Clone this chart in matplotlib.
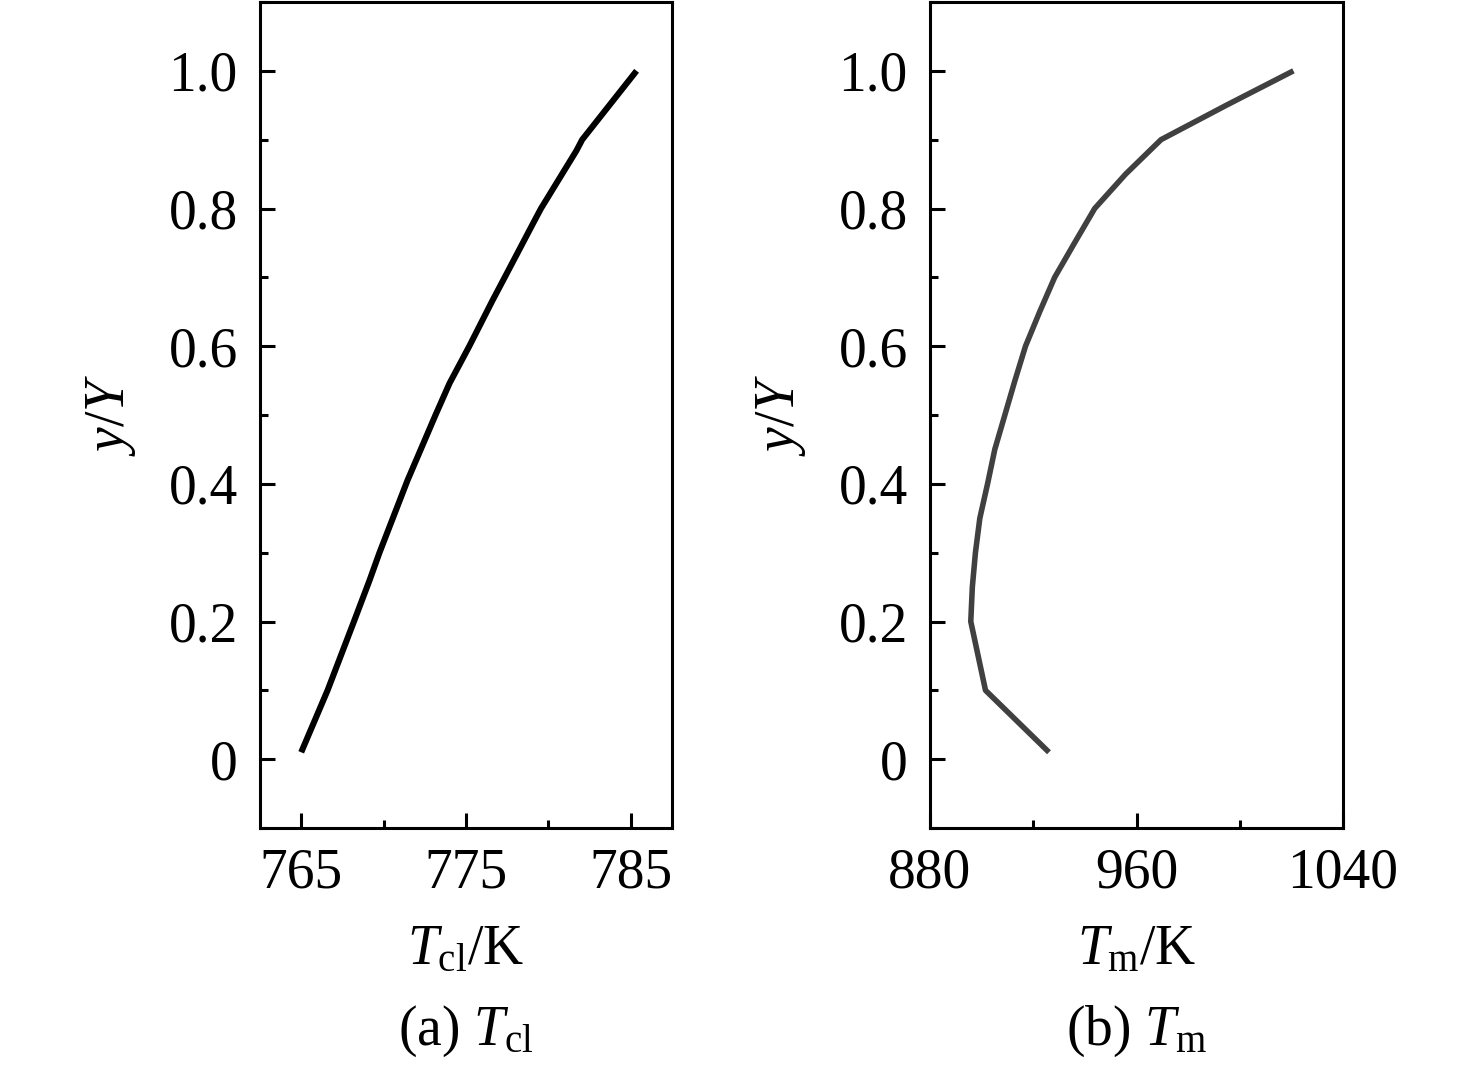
import matplotlib
matplotlib.use("Agg")
import matplotlib.pyplot as plt
from matplotlib.ticker import MultipleLocator

plt.rcParams['font.family'] = ['Liberation Serif', 'DejaVu Serif']
plt.rcParams['mathtext.fontset'] = 'custom'
plt.rcParams['mathtext.rm'] = 'Liberation Serif'
plt.rcParams['mathtext.it'] = 'Liberation Serif:italic'

# Data: panel (a)
y_a = [0.01, 0.1, 0.2, 0.26, 0.3, 0.405, 0.5, 0.546, 0.6, 0.666, 0.7,
       0.782, 0.8, 0.884, 0.9, 1.0]
T_cl = [765.0, 766.6, 768.2, 769.15, 769.75, 771.45, 773.15, 774.0, 775.2,
        776.6, 777.35, 779.15, 779.55, 781.7, 782.05, 785.35]

# Data: panel (b)
y_b = [0.01, 0.1, 0.2, 0.25, 0.3, 0.35, 0.4, 0.45, 0.5, 0.55, 0.6, 0.65,
       0.7, 0.75, 0.8, 0.85, 0.9, 0.95, 1.0]
T_m = [926.1, 901.5, 895.8, 896.4, 897.6, 899.3, 902.3, 905.1, 909.0, 912.9,
       917.0, 922.5, 928.3, 936.0, 943.8, 955.8, 969.5, 994.8, 1020.8]

xlim_a = (762.5, 787.5)
xticks_a = [765, 775, 785]
xlim_b = (880, 1040)
xticks_b = [880, 960, 1040]
yticks = [0, 0.2, 0.4, 0.6, 0.8, 1.0]
ytick_labels = ['0', '0.2', '0.4', '0.6', '0.8', '1.0']

fig = plt.figure(figsize=(14.76, 10.76), dpi=100)
H = 1076.0
W = 1476.0
ax1 = fig.add_axes([260 / W, (H - 828) / H, 412 / W, 826 / H])
ax2 = fig.add_axes([930 / W, (H - 828) / H, 413 / W, 826 / H])

fs = 40

def style(ax, xlim, xticks, xminor):
    ax.set_xlim(*xlim)
    ax.set_ylim(-0.1, 1.1)
    ax.set_xticks(xticks)
    ax.set_xticklabels([str(t) for t in xticks])
    ax.set_yticks(yticks)
    ax.set_yticklabels(ytick_labels)
    ax.xaxis.set_minor_locator(MultipleLocator(xminor))
    ax.yaxis.set_minor_locator(MultipleLocator(0.1))
    ax.tick_params(which='both', direction='in', top=False, right=False,
                   labelsize=fs, width=2.2)
    ax.tick_params(axis='y', which='major', length=11, pad=16)
    ax.tick_params(axis='x', which='major', length=11, pad=14)
    ax.tick_params(which='minor', length=6)
    for s in ax.spines.values():
        s.set_linewidth(2.2)
    ax.set_ylabel('$y$/$Y$', fontsize=fs, labelpad=22)

style(ax1, xlim_a, xticks_a, 5)
style(ax2, xlim_b, xticks_b, 40)

ax1.plot(T_cl, y_a, color='black', lw=4.4, solid_capstyle='butt',
         solid_joinstyle='round')
ax2.plot(T_m, y_b, color='#404040', lw=4.0, solid_capstyle='butt',
         solid_joinstyle='round')

ax1.set_xlabel('$T_{\\mathrm{cl}}$/K', fontsize=fs, labelpad=18)
ax2.set_xlabel('$T_{\\mathrm{m}}$/K', fontsize=fs, labelpad=18)

ax1.text(0.5, -0.262, '(a) $T_{\\mathrm{cl}}$', transform=ax1.transAxes,
         ha='center', va='baseline', fontsize=fs)
ax2.text(0.5, -0.262, '(b) $T_{\\mathrm{m}}$', transform=ax2.transAxes,
         ha='center', va='baseline', fontsize=fs)

fig.savefig('out.png', dpi=100)
